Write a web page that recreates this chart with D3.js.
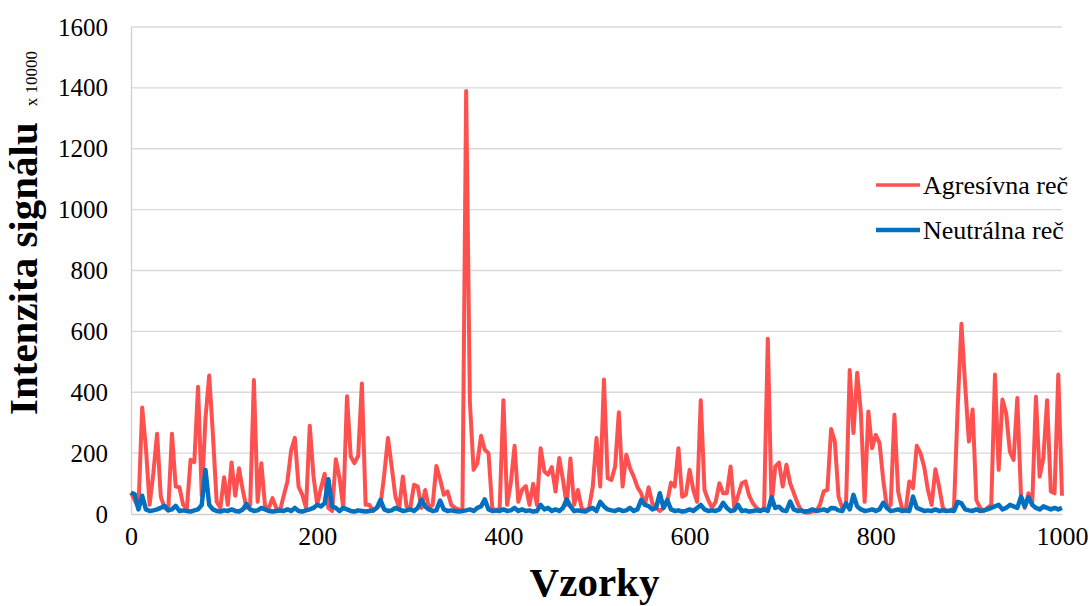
<!DOCTYPE html>
<html lang="en">
<head>
    <meta charset="UTF-8">
    <title>Intenzita signálu</title>
    <script src="https://d3js.org/d3.v7.min.js"></script>
    <style>
        body { margin: 0; background: #fff; }
    </style>
</head>
<body>
    <svg id="chart" width="1091" height="606" font-family="Liberation Serif"></svg>

    <script>
        // one value every 4 samples (sample index = position * step)
        const step = 4;

        const agresivna = [
            70, 45, 20, 350, 218, 30, 134, 264, 57, 20,
            12, 264, 90, 88, 30, 18, 178, 170, 418, 60,
            315, 455, 260, 40, 20, 121, 30, 169, 60, 150,
            79, 20, 30, 440, 40, 167, 25, 20, 52, 20,
            10, 60, 107, 209, 250, 90, 63, 20, 290, 125,
            30, 85, 132, 20, 10, 180, 118, 20, 387, 189,
            167, 191, 429, 30, 30, 10, 20, 30, 129, 250,
            156, 57, 20, 123, 24, 20, 96, 90, 20, 79,
            20, 30, 158, 114, 63, 74, 30, 20, 15, 10,
            1390, 367, 145, 167, 257, 211, 200, 20, 10, 20,
            374, 30, 103, 224, 40, 79, 92, 30, 99, 30,
            216, 140, 129, 154, 74, 184, 112, 30, 182, 30,
            79, 20, 10, 20, 90, 250, 90, 442, 118, 112,
            156, 334, 90, 195, 150, 123, 88, 68, 30, 88,
            35, 20, 10, 20, 40, 103, 90, 216, 57, 63,
            145, 79, 40, 374, 79, 46, 20, 40, 101, 68,
            68, 156, 20, 60, 101, 107, 60, 35, 20, 10,
            20, 576, 30, 156, 169, 90, 162, 101, 68, 35,
            10, 5, 5, 8, 10, 30, 74, 79, 279, 238,
            57, 20, 30, 473, 266, 464, 332, 40, 337, 216,
            260, 233, 112, 20, 30, 326, 74, 20, 10, 107,
            85, 224, 200, 154, 79, 30, 147, 90, 20, 10,
            10, 20, 354, 625, 422, 238, 343, 46, 20, 10,
            20, 30, 458, 145, 376, 332, 205, 178, 381, 57,
            20, 68, 30, 385, 123, 184, 374, 74, 68, 458,
            60
        ];

        const neutralna = [
            70, 65, 15, 60, 15, 10, 12, 15, 20, 27,
            12, 15, 27, 10, 12, 10, 8, 12, 15, 30,
            145, 30, 15, 10, 8, 12, 10, 15, 10, 8,
            15, 33, 15, 10, 12, 20, 15, 10, 8, 10,
            12, 10, 15, 10, 20, 10, 8, 12, 15, 20,
            30, 25, 35, 114, 25, 20, 10, 20, 15, 10,
            8, 12, 10, 8, 10, 12, 20, 46, 15, 10,
            12, 20, 15, 10, 12, 15, 10, 20, 46, 25,
            15, 10, 12, 44, 15, 10, 12, 10, 8, 10,
            12, 15, 10, 20, 25, 48, 15, 10, 12, 10,
            15, 10, 12, 20, 10, 15, 10, 12, 8, 10,
            30, 15, 20, 10, 15, 10, 20, 48, 25, 10,
            12, 10, 8, 15, 20, 10, 40, 25, 15, 12,
            10, 15, 10, 12, 20, 10, 15, 46, 30, 26,
            15, 20, 68, 20, 46, 15, 10, 12, 8, 10,
            15, 10, 20, 30, 15, 10, 12, 10, 15, 37,
            20, 10, 12, 30, 10, 12, 8, 10, 12, 10,
            15, 10, 55, 20, 24, 12, 10, 41, 15, 10,
            12, 8, 10, 15, 10, 12, 15, 10, 20, 19,
            12, 10, 35, 15, 63, 25, 15, 10, 12, 15,
            10, 15, 37, 20, 10, 12, 15, 10, 12, 10,
            57, 20, 15, 10, 12, 10, 15, 10, 12, 10,
            12, 10, 40, 35, 15, 12, 10, 15, 10, 12,
            15, 20, 25, 30, 15, 20, 30, 25, 20, 57,
            25, 55, 30, 20, 15, 25, 20, 15, 20, 15,
            20
        ];

        const yTicks = [0, 200, 400, 600, 800, 1000, 1200, 1400, 1600];
        const xTicks = [0, 200, 400, 600, 800, 1000];

        const serif = "Liberation Serif";

        const margin = { top: 27, right: 29, bottom: 92, left: 131 };
        const width = 1091 - margin.left - margin.right;
        const height = 606 - margin.top - margin.bottom;

        const svg = d3.select("#chart")
            .append("g")
            .attr("transform", "translate(" + margin.left + "," + margin.top + ")");

        const x = d3.scaleLinear().domain([0, 1000]).range([0, width]);
        const y = d3.scaleLinear().domain([0, 1600]).range([height, 0]);

        // horizontal grid
        svg.selectAll(".grid")
            .data(yTicks.slice(1))
            .enter().append("line")
            .attr("class", "grid")
            .attr("x1", 0)
            .attr("x2", width)
            .attr("y1", d => y(d))
            .attr("y2", d => y(d))
            .attr("stroke", "#d9d9d9")
            .attr("stroke-width", 1.3);

        // axes
        const yAxis = svg.append("g")
            .call(d3.axisLeft(y).tickValues(yTicks).tickFormat(d3.format("d")).tickSize(0).tickPadding(23));
        yAxis.attr("font-family", serif).attr("font-size", 25);
        yAxis.select(".domain").attr("stroke", "#d0d0d0").attr("stroke-width", 1.3);
        yAxis.selectAll("text").attr("fill", "#000");

        const xAxis = svg.append("g")
            .attr("transform", "translate(0," + height + ")")
            .call(d3.axisBottom(x).tickValues(xTicks).tickFormat(d3.format("d")).tickSize(0).tickPadding(13));
        xAxis.attr("font-family", serif).attr("font-size", 26);
        xAxis.select(".domain").attr("stroke", "#d0d0d0").attr("stroke-width", 1.3);
        xAxis.selectAll("text").attr("fill", "#000");

        const line = d3.line()
            .x((d, i) => x(i * step))
            .y(d => y(d));

        svg.append("path")
            .datum(agresivna)
            .attr("fill", "none")
            .attr("stroke", "#ff5050")
            .attr("stroke-width", 4)
            .attr("stroke-linejoin", "round")
            .attr("d", line);

        svg.append("path")
            .datum(neutralna)
            .attr("fill", "none")
            .attr("stroke", "#0070c0")
            .attr("stroke-width", 4.5)
            .attr("stroke-linejoin", "round")
            .attr("d", line);

        // axis titles
        svg.append("text")
            .attr("x", width / 2 - 2)
            .attr("y", height + 82)
            .attr("font-family", serif)
            .attr("font-size", 41)
            .attr("font-weight", "bold")
            .style("text-anchor", "middle")
            .text("Vzorky");

        const yTitle = svg.append("text")
            .attr("transform", "translate(" + (37 - margin.left) + "," + (415 - margin.top) + ") rotate(-90)")
            .attr("font-family", serif)
            .style("text-anchor", "start");
        yTitle.append("tspan")
            .attr("font-size", 41)
            .attr("font-weight", "bold")
            .text("Intenzita  signálu");
        yTitle.append("tspan")
            .attr("dx", 16)
            .attr("font-size", 17)
            .text("x 10000");

        // legend
        const legend = svg.append("g")
            .attr("transform", "translate(" + (876 - margin.left) + "," + (185 - margin.top) + ")");

        const legendItems = [
            { name: "Agresívna reč", color: "#ff5050", w: 3.5 },
            { name: "Neutrálna reč", color: "#0070c0", w: 4.5 }
        ];

        legendItems.forEach(function(d, i) {
            legend.append("line")
                .attr("x1", 0)
                .attr("x2", 44)
                .attr("y1", i * 45)
                .attr("y2", i * 45)
                .attr("stroke", d.color)
                .attr("stroke-width", d.w);
            legend.append("text")
                .attr("x", 47)
                .attr("y", i * 45 + 9)
                .attr("font-family", serif)
                .attr("font-size", 26)
                .text(d.name);
        });
    </script>
</body>
</html>
